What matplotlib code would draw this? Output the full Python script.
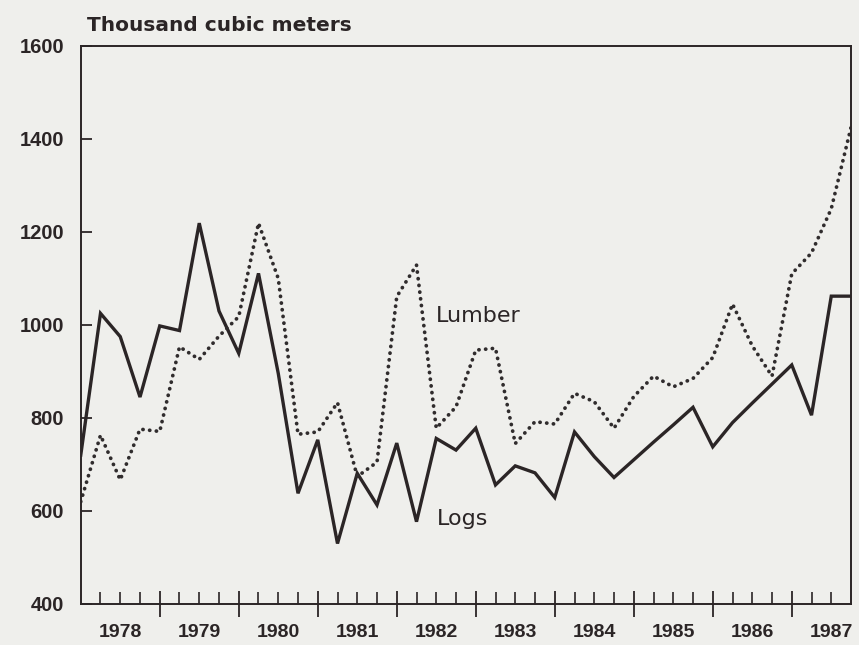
import matplotlib
matplotlib.use("Agg")
import matplotlib.pyplot as plt

# quarterly, 1978 Q1 .. 1987 Q4 (thousand cubic meters)
years = [1978, 1979, 1980, 1981, 1982, 1983, 1984, 1985, 1986, 1987]
logs = [720, 1025, 975, 845, 998, 988, 1219, 1030, 939, 1111,
        896, 638, 753, 530, 681, 613, 746, 577, 756, 731,
        778, 656, 697, 682, 629, 770, 717, 672, 710, 748,
        785, 823, 738, 790, 832, 873, 914, 806, 1062, 1062]
lumber = [620, 763, 667, 776, 771, 953, 926, 976, 1018, 1219,
          1100, 765, 770, 833, 674, 705, 1061, 1129, 778, 824,
          946, 950, 745, 792, 787, 853, 835, 778, 846, 890,
          867, 885, 930, 1045, 955, 890, 1110, 1155, 1250, 1425]
yticks = [400, 600, 800, 1000, 1200, 1400, 1600]

bg = "#efefec"
ink = "#2b2526"
tickfont = dict(family="Liberation Sans", weight="bold", size=14.5)

fig = plt.figure(figsize=(8.59, 6.45), dpi=100, facecolor=bg)
ax = fig.add_axes([0.094, 0.0636, 0.8967, 0.8651])
ax.set_facecolor(bg)

q = list(range(len(logs)))
ax.plot(q, logs, color=ink, lw=2.4, solid_joinstyle="miter")
ax.plot(q, lumber, color="#302c2d", lw=2.7, linestyle=(0, (0.05, 1.75)),
        dash_capstyle="round")

ax.set_xlim(0, len(logs) - 1)
ax.set_ylim(400, 1600)

for s in ax.spines.values():
    s.set_linewidth(1.4)
    s.set_color(ink)

ax.set_yticks(yticks)
ax.set_yticklabels([str(v) for v in yticks], fontdict=tickfont)
ax.tick_params(axis="y", direction="in", length=8, width=1.3, pad=12, colors=ink)

ax.set_xticks([4 * i for i in range(1, len(years))])
ax.set_xticks([i for i in range(1, len(logs) - 1) if i % 4], minor=True)
ax.set_xticklabels([])
ax.tick_params(axis="x", which="major", direction="inout", length=19, width=1.3, colors=ink)
ax.tick_params(axis="x", which="minor", direction="in", length=9, width=1.2, colors=ink)

for i, yr in enumerate(years):
    ax.text(2 + 4 * i, -0.052, str(yr), transform=ax.get_xaxis_transform(),
            ha="center", va="center", color=ink, family="Liberation Sans",
            weight="bold", size=14)

fig.text(0.101, 0.961, "Thousand cubic meters", ha="left", va="center",
         color=ink, family="DejaVu Sans", weight="bold", size=14.5)

ax.text(18.0, 1020, "Lumber", ha="left", va="center", color=ink,
        family="DejaVu Sans", size=16)
ax.text(18.05, 583, "Logs", ha="left", va="center", color=ink,
        family="DejaVu Sans", size=16)

fig.savefig("out.png", dpi=100, facecolor=bg)
